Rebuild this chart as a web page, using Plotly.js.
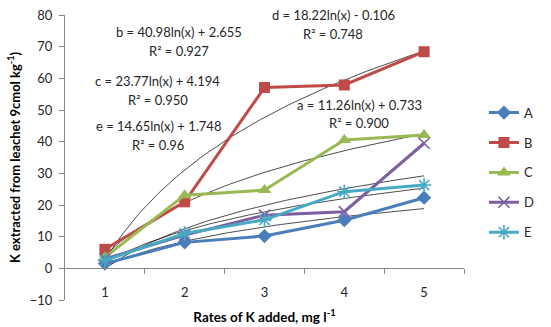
<!DOCTYPE html>
<html>
<head>
<meta charset="utf-8">
<script src="https://cdn.plot.ly/plotly-3.0.1.min.js"></script>
<style>html,body{margin:0;padding:0;background:#fff;}#chart{width:551px;height:327px;}</style>
</head>
<body>
<div id="chart"></div>
<script>
// ---- data ----
const rates = [1, 2, 3, 4, 5];
const seriesNames = ['A', 'B', 'C', 'D', 'E'];
const valuesA = [1.5, 8.2, 10.2, 15.2, 22.3];
const valuesB = [6.0, 21.0, 57.1, 57.9, 68.4];
const valuesC = [3.5, 23.1, 24.7, 40.5, 42.1];
const valuesD = [3.0, 10.5, 16.8, 17.9, 39.5];
const valuesE = [2.5, 11.0, 15.3, 24.2, 26.3];
// logarithmic trendline coefficients (y = slope*ln(x) + intercept), as printed on the chart
const trendSlope = [11.26, 40.98, 23.77, 18.22, 14.65];
const trendIntercept = [0.733, 2.655, 4.194, -0.106, 1.748];
const trendLabels = ['a = 11.26ln(x) + 0.733', 'b = 40.98ln(x) + 2.655', 'c = 23.77ln(x) + 4.194', 'd = 18.22ln(x) - 0.106', 'e = 14.65ln(x) + 1.748'];
const r2Labels = ['R² = 0.900', 'R² = 0.927', 'R² = 0.950', 'R² = 0.748', 'R² = 0.96'];

// ---- styles ----
const colors = ['#4A7EBB', '#BE4B48', '#98B954', '#7D5FA0', '#46AAC5'];
const symbols = ['diamond', 'square', 'triangle-up', 'x-thin-open', 'asterisk-open'];
const msizes = [11, 11, 12, 11, 12];
const FONT = 'Lato, "Open Sans", sans-serif';
const allValues = [valuesA, valuesB, valuesC, valuesD, valuesE];

const traces = [];
// trendlines (drawn first, thin black)
const tx = [];
for (let i = 0; i <= 80; i++) tx.push(rates[0] + (rates[rates.length - 1] - rates[0]) * i / 80);
for (let s = 0; s < 5; s++) {
  traces.push({
    x: tx, y: tx.map(v => trendSlope[s] * Math.log(v) + trendIntercept[s]),
    mode: 'lines', line: {color: '#000', width: 0.7}, showlegend: false, hoverinfo: 'skip'
  });
}
for (let s = 0; s < 5; s++) {
  const isLineSym = symbols[s].indexOf('open') >= 0;
  traces.push({
    x: rates, y: allValues[s], name: seriesNames[s], legendgroup: seriesNames[s],
    mode: 'lines+markers',
    line: {color: colors[s], width: 3},
    marker: {symbol: symbols[s], size: msizes[s], color: colors[s],
             line: {color: colors[s], width: isLineSym ? 1.6 : 0}}
  });
}

// annotation positions (data coords)
const annPos = [
  {x: 4.19, y1: 51.6, y2: 45.9},
  {x: 1.93, y1: 74.6, y2: 68.6},
  {x: 1.66, y1: 59.1, y2: 53.1},
  {x: 3.86, y1: 80.0, y2: 74.0},
  {x: 1.67, y1: 44.9, y2: 38.9}
];
const annotations = [];
for (let s = 0; s < 5; s++) {
  annotations.push({x: annPos[s].x, y: annPos[s].y1, xref: 'x', yref: 'y', text: trendLabels[s], showarrow: false,
    font: {family: FONT, size: 13, color: '#262626'}});
  annotations.push({x: annPos[s].x, y: annPos[s].y2, xref: 'x', yref: 'y', text: r2Labels[s], showarrow: false,
    font: {family: FONT, size: 13, color: '#262626'}});
}

const layout = {
  width: 551, height: 327,
  margin: {l: 65, r: 76, t: 15, b: 27, pad: 0},
  paper_bgcolor: '#fff', plot_bgcolor: '#fff',
  font: {family: FONT, size: 13, color: '#262626'},
  showlegend: true,
  legend: {x: 1.05, xanchor: 'left', y: 0.71, yanchor: 'top', traceorder: 'grouped', tracegroupgap: 10,
           font: {family: FONT, size: 13, color: '#262626'}, bgcolor: 'rgba(0,0,0,0)'},
  xaxis: {
    range: [0.5, 5.5], tickvals: rates, ticktext: rates.map(String),
    anchor: 'free', position: 10 / 90, showline: true, linecolor: '#868686', linewidth: 1,
    ticks: '', ticklabelstandoff: 12, showgrid: false, zeroline: false,
    tickfont: {family: FONT, size: 13, color: '#262626'},
    title: {text: '<b>Rates of K added, mg l<sup>-1</sup></b>', font: {family: FONT, size: 13.5, color: '#000'}, standoff: 13}
  },
  xaxis2: {
    overlaying: 'x', matches: 'x', range: [0.5, 5.5], tickvals: [1.5, 2.5, 3.5, 4.5, 5.5],
    anchor: 'free', position: 10 / 90, side: 'bottom', showticklabels: false,
    ticks: 'outside', ticklen: 5, tickcolor: '#868686', showline: true, linecolor: '#868686',
    showgrid: false, zeroline: false
  },
  yaxis: {
    range: [-10, 80], dtick: 10, tick0: 0, showline: true, linecolor: '#868686', linewidth: 1,
    ticks: 'outside', ticklen: 5, tickcolor: '#868686', showgrid: false, zeroline: false,
    ticklabelstandoff: 4,
    tickfont: {family: FONT, size: 13, color: '#262626'},
    title: {text: '<b>K extracted from leachet 9cmol kg<sup>-1</sup>)</b>', font: {family: FONT, size: 13, color: '#000'}, standoff: 6}
  },
  annotations: annotations
};
// dummy trace to activate xaxis2
traces.push({x: [1], y: [null], xaxis: 'x2', showlegend: false, hoverinfo: 'skip', mode: 'markers'});

Plotly.newPlot('chart', traces, layout, {displayModeBar: false, staticPlot: true});
</script>
</body>
</html>
